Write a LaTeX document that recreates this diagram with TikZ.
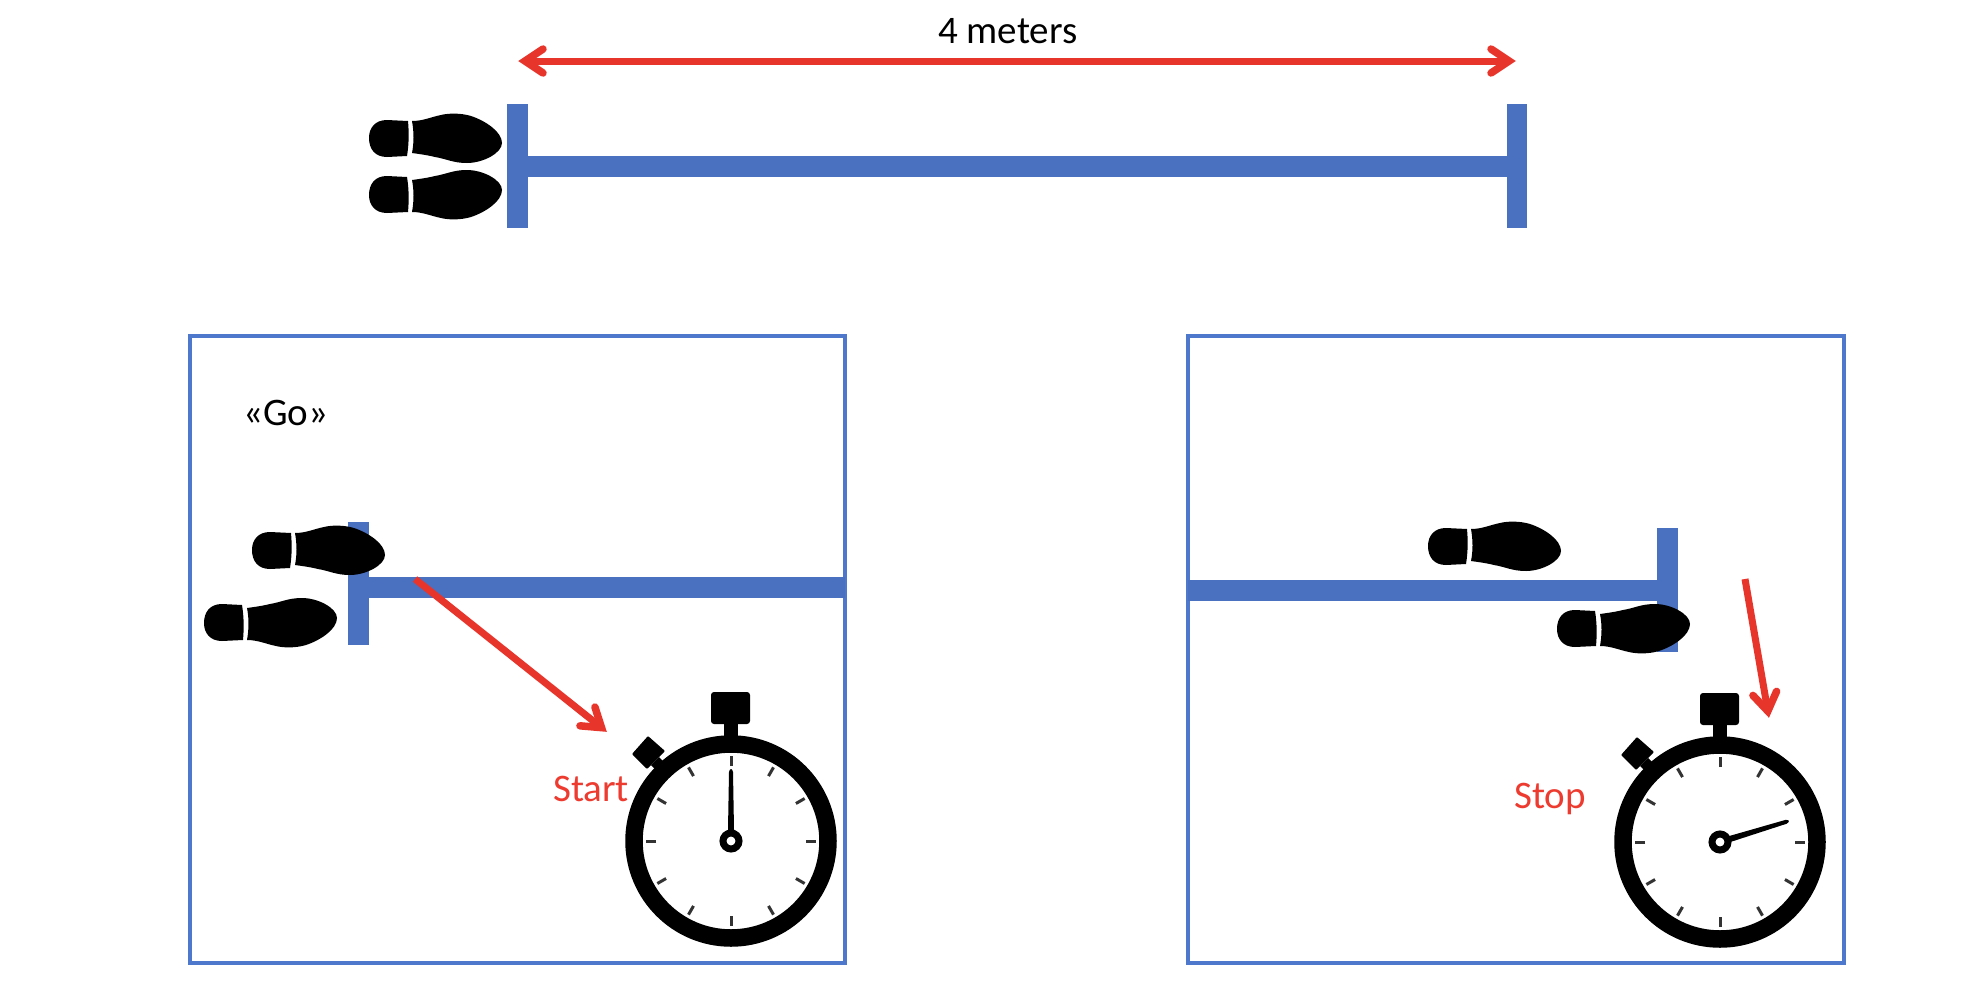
\documentclass[tikz,border=0pt]{standalone}
\usepackage{fontspec}
\setmainfont{Carlito}
\usetikzlibrary{calc}
\definecolor{barblue}{HTML}{4A70C0}
\definecolor{boxblue}{HTML}{4D78CC}
\definecolor{arrowred}{HTML}{E8352B}
\definecolor{labelred}{HTML}{EE3B30}
\definecolor{tickgray}{HTML}{333333}
\newcommand{\redhead}[2]{%
  \draw[redbarb] ($(#2)!25pt!(#1)!12pt!90:(#2)$) -- ($(#2)!7pt!(#1)$) -- ($(#2)!25pt!(#1)!12pt!-90:(#2)$);}
\tikzset{
  x=1pt,y=-1pt,
  panel/.style={draw=boxblue,line width=3.5pt},
  bar/.style={fill=barblue,draw=none},
  label/.style={inner sep=0pt,anchor=base west,font=\fontsize{39}{42}\selectfont},
  redline/.style={draw=arrowred,line width=7pt},
  redbarb/.style={draw=arrowred,line width=7.5pt,line cap=round,line join=miter},
  pics/shoe/.style={code={
    \fill[black] (39,-17) -- (18,-18) .. controls (6,-18) and (0,-10) .. (0,0)
      .. controls (0,11) and (6,19) .. (18,19) -- (38,18)
      .. controls (40,6) and (40,-6) .. (39,-17) -- cycle;
    \fill[black] (43,-17) .. controls (54,-17) and (62,-21) .. (72,-23)
      .. controls (80,-25) and (92,-25) .. (102,-22)
      .. controls (117,-17) and (133,-6) .. (133,5)
      .. controls (133,15) and (114,25) .. (98,25)
      .. controls (84,25) and (78,21) .. (66,19)
      .. controls (58,17) and (50,16) .. (43,15)
      .. controls (45,5) and (45,-6) .. (43,-17) -- cycle;
  }},
  pics/watch/.style={code={
    \fill[black,rounded corners=3pt] (-20,-149) rectangle (19,-117);
    \fill[black] (-7,-118) rectangle (7,-95);
    \fill[black,rounded corners=1pt] (-83,-105) -- (-66,-90) -- (-84,-72) -- (-99,-87) -- cycle;
    \fill[black] (-72,-84) -- (-80,-76) -- (-72,-68) -- (-64,-76) -- cycle;
    \draw[black,fill=white,line width=17.5pt] (0,0) circle[radius=97];
    \foreach \a in {0,30,...,330}
      \draw[tickgray,line width=3pt] ({cos(\a)*75},{sin(\a)*75}) -- ({cos(\a)*85},{sin(\a)*85});
    \begin{scope}[rotate=#1]
      \fill[black] (0,-3.2) -- (69,-2) .. controls (71,-1.6) and (72,-0.8) .. (72,0)
        .. controls (72,0.8) and (71,1.6) .. (69,2) -- (0,3.2) -- cycle;
    \end{scope}
    \draw[black,fill=white,line width=7pt] (0,0) circle[radius=8];
  }}
}
\begin{document}
\begin{tikzpicture}
\useasboundingbox (0,0) rectangle (1982,1002);
\fill[white] (0,0) rectangle (1982,1002);

% named end points
\coordinate (topL) at (518,61);
\coordinate (topR) at (1516,61);
\coordinate (startFrom) at (415,579);
\coordinate (startTo) at (607,732);
\coordinate (stopFrom) at (1745,579);
\coordinate (stopTo) at (1769,718);

% top track
\fill[bar] (507,104) rectangle (528,228);
\fill[bar] (1507,104) rectangle (1527,228);
\fill[bar] (528,156) rectangle (1507,177);
\pic at (369,138) {shoe};
\pic[yscale=-1] at (369,195) {shoe};
\draw[redline] ($(topL)!10pt!(topR)$) -- ($(topR)!10pt!(topL)$);
\redhead{topR}{topL}
\redhead{topL}{topR}
\node[label] (meters) at (938,43) {4 meters};

% left panel
\draw[panel] (190,336) rectangle (845,963);
\fill[bar] (348,522) rectangle (369,645);
\fill[bar] (369,577) rectangle (845,598);
\pic at (252,550) {shoe};
\pic[yscale=-1] at (204,623) {shoe};
\node[label] (go) at (243,425) {«Go»};
\pic at (731,841) {watch=90};
\draw[redline] (startFrom) -- ($(startTo)!10pt!(startFrom)$);
\redhead{startFrom}{startTo}
\node[label,text=labelred] (start) at (553,801) {Start};

% right panel
\draw[panel] (1188,336) rectangle (1844,963);
\fill[bar] (1657,528) rectangle (1678,652);
\fill[bar] (1188,580) rectangle (1657,601);
\pic at (1428,546) {shoe};
\pic[yscale=-1] at (1557,629) {shoe};
\pic at (1720,842) {watch=17};
\draw[redline] (stopFrom) -- ($(stopTo)!10pt!(stopFrom)$);
\redhead{stopFrom}{stopTo}
\node[label,text=labelred] (stop) at (1514,808) {Stop};
\end{tikzpicture}
\end{document}
